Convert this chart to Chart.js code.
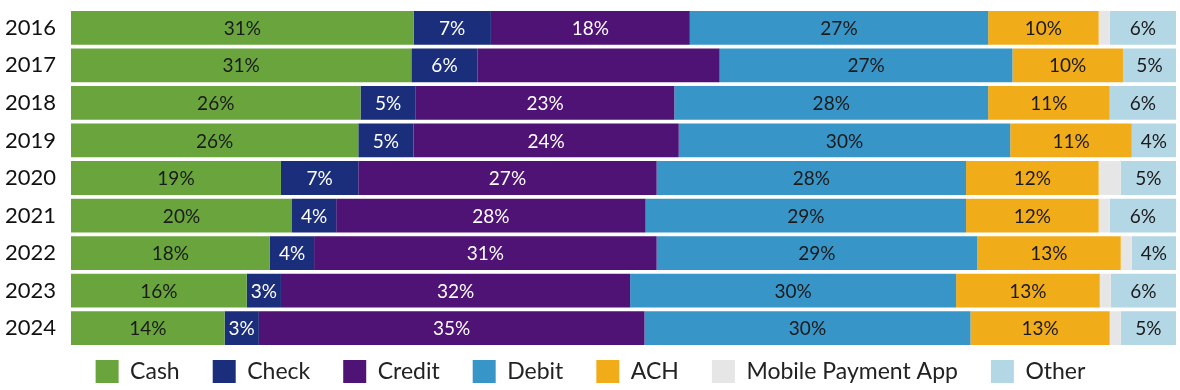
<!DOCTYPE html>
<html>
<head>
<meta charset="utf-8">
<script src="https://cdn.jsdelivr.net/npm/chart.js@4.4.1/dist/chart.umd.min.js"></script>
<style>
  html, body { margin: 0; padding: 0; background: #fff; }
  #wrap { width: 1180px; height: 390px; position: relative; }
</style>
</head>
<body>
<div id="wrap"><canvas id="payChart"></canvas></div>
<script>
// share of payments by method, per year (percent)
var years  = ['2016', '2017', '2018', '2019', '2020', '2021', '2022', '2023', '2024'];
var cash   = [31, 30.8, 26.2, 26, 19, 20, 18, 15.9, 13.9];
var check  = [7, 6, 5, 5, 7, 4, 4, 3.1, 3.1];
var credit = [18, 21.9, 23.4, 24, 27, 28, 31, 31.6, 34.9];
var debit  = [27, 26.5, 28.4, 30, 28, 29, 29, 29.5, 29.5];
var ach    = [10, 10, 11, 11, 12, 12, 13, 13, 12.6];
var mobile = [1, 0, 0, 0, 2, 1, 1, 1, 1];
var other  = [6, 4.8, 6, 4, 5, 6, 4, 5.9, 5];

// labels that are not printed in the original
var hiddenLabels = { 'Credit': ['2017'], 'Mobile Payment App': years };

var series = [
  { label: 'Cash', data: cash, backgroundColor: '#69a53c', textColor: '#1a1a1a' },
  { label: 'Check', data: check, backgroundColor: '#1b2e7c', textColor: '#ffffff' },
  { label: 'Credit', data: credit, backgroundColor: '#4f1275', textColor: '#ffffff' },
  { label: 'Debit', data: debit, backgroundColor: '#3895c8', textColor: '#1a1a1a' },
  { label: 'ACH', data: ach, backgroundColor: '#f1ac1a', textColor: '#1a1a1a' },
  { label: 'Mobile Payment App', data: mobile, backgroundColor: '#e6e6e6', textColor: '#1a1a1a' },
  { label: 'Other', data: other, backgroundColor: '#b4d7e6', textColor: '#1a1a1a' }
];

var FONT = 'Lato, "Noto Sans", sans-serif';

var barLabels = {
  id: 'barLabels',
  afterDatasetsDraw: function(chart) {
    var ctx = chart.ctx;
    ctx.save();
    ctx.font = '19px ' + FONT;
    ctx.textAlign = 'center';
    ctx.textBaseline = 'middle';
    chart.data.datasets.forEach(function(ds, i) {
      var skip = hiddenLabels[ds.label] || [];
      chart.getDatasetMeta(i).data.forEach(function(bar, j) {
        var v = ds.data[j];
        if (!v || skip.indexOf(years[j]) >= 0) return;
        ctx.fillStyle = ds.textColor;
        ctx.fillText(Math.round(v) + '%', (bar.x + bar.base) / 2, bar.y + 1);
      });
    });
    ctx.restore();
  }
};

// legend: keep the wide gaps between items but make the box short
var legendFix = {
  id: 'legendFix',
  beforeLayout: function(chart) {
    var lg = chart.legend;
    if (!lg || lg._patched) return;
    lg._patched = true;
    var fit = lg.fit, draw = lg.draw;
    lg.fit = function() { fit.call(this); this.height = 43; };
    lg.draw = function() {
      var t = this.top;
      this.top = t + 13 - this.options.labels.padding;
      draw.call(this);
      this.top = t;
    };
  }
};

var ctx = document.getElementById('payChart').getContext('2d');
var myChart = new Chart(ctx, {
  type: 'bar',
  plugins: [barLabels, legendFix],
  data: {
    labels: years,
    datasets: series.map(function(s) {
      return {
        label: s.label,
        data: s.data,
        backgroundColor: s.backgroundColor,
        textColor: s.textColor,
        borderWidth: 0,
        barPercentage: 0.9,
        categoryPercentage: 1.0
      };
    })
  },
  options: {
    indexAxis: 'y',
    responsive: true,
    maintainAspectRatio: false,
    animation: false,
    layout: { padding: { left: 5, right: 4, top: 9, bottom: 0 } },
    scales: {
      x: { stacked: true, min: 0, max: 100, display: false },
      y: {
        stacked: true,
        grid: { display: false, drawTicks: false },
        border: { display: false },
        ticks: {
          crossAlign: 'far',
          color: '#111',
          font: { family: FONT, size: 22 }
        },
        afterFit: function(scale) {
          scale.width = 66;
          scale.paddingTop = 0;
          scale.paddingBottom = 0;
        }
      }
    },
    plugins: {
      tooltip: { enabled: false },
      legend: {
        position: 'bottom',
        labels: {
          boxWidth: 23,
          boxHeight: 23,
          padding: 33,
          color: '#222',
          font: { family: FONT, size: 23, lineHeight: 1 }
        }
      }
    }
  }
});
</script>
</body>
</html>
